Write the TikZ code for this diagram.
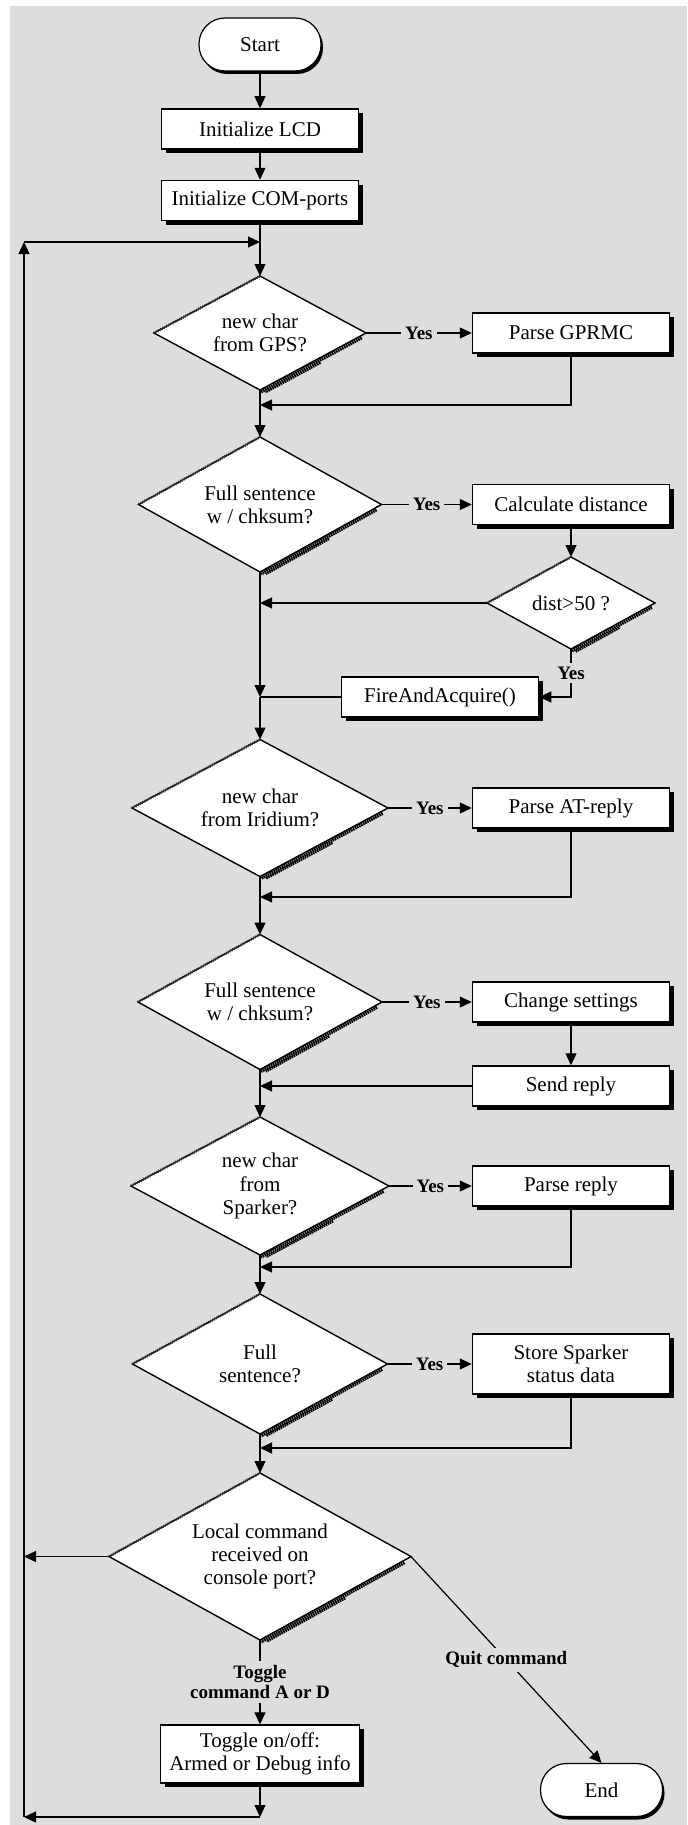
\documentclass[tikz,border=0pt]{standalone}
\usepackage{fontspec}
\setmainfont{Liberation Serif}
\usetikzlibrary{shapes.geometric, arrows.meta, calc, shadows, decorations.pathmorphing}
\definecolor{bg}{RGB}{221,221,221}
\newcommand\mainf{\fontsize{10.5}{11.6}\selectfont}
\newcommand\labf{\bfseries\fontsize{9.5}{10.2}\selectfont}
\newcommand\dshade[1]{%
  \draw[hatch, line width=1.6pt] ($(#1.east)!0.05!(#1.south)!1.1pt!90:(#1.south)$) -- ($(#1.south)!1.1pt!-90:(#1.east)$);
  \draw[hatch, line width=1.2pt] ($(#1.east)!0.45!(#1.south)!2.3pt!90:(#1.south)$) -- ($(#1.south)!0.03!(#1.east)!2.3pt!-90:(#1.east)$);
  \draw[zig] (#1.west) -- (#1.north);}
\tikzset{
  bx/.style={draw, fill=white, line width=0.75pt, minimum width=98.5pt, minimum height=20pt,
    inner sep=1pt, align=center, font=\mainf,
    drop shadow={shadow xshift=2pt, shadow yshift=-2pt, fill=black, opacity=1}},
  dec/.style={diamond, draw, fill=white, line width=0.7pt, inner sep=0pt, outer sep=0pt,
    shape aspect=1.8, align=center, font=\mainf},
  term/.style={rectangle, rounded corners=13pt, draw, fill=white, line width=0.6pt,
    minimum width=61pt, minimum height=26.5pt, font=\mainf,
    drop shadow={shadow xshift=1pt, shadow yshift=-1.5pt, fill=black, opacity=1}},
  arr/.style={line width=0.6pt, -{Triangle[length=6pt,width=5.5pt]}},
  ln/.style={line width=0.6pt},
  yes/.style={font=\labf, fill=bg, inner sep=2pt, align=center},
  hatch/.style={dash pattern=on 0.8pt off 0.35pt, black},
  zig/.style={decorate, decoration={zigzag, amplitude=0.5pt, segment length=1.2pt},
    line width=0.35pt, black!80}
}
\begin{document}
\begin{tikzpicture}[x=0.5pt, y=-0.5pt]
\useasboundingbox (0,0) rectangle (687,1825);
\fill[white] (0,0) rectangle (687,1825);
\fill[bg] (10,6) rectangle (687,1825);

% nodes
\node[term] (start) at (260,44.5) {Start};
\node[bx] (lcd) at (260,129) {Initialize LCD};
\node[bx] (com) at (260,200.5) {Initialize COM-ports};
\node[dec, minimum width=106pt, minimum height=57pt] (d1) at (260,333) {new char\\from GPS?};
\node[bx] (gps) at (571,333) {Parse GPRMC};
\node[dec, minimum width=121.5pt, minimum height=67.5pt] (d2) at (260,504.5) {Full sentence\\w / chksum?};
\node[bx] (calc) at (571,504.5) {Calculate distance};
\node[dec, minimum width=84pt, minimum height=46pt] (d3) at (571,603) {dist>50 ?};
\node[bx] (fire) at (440,697) {FireAndAcquire()};
\node[dec, minimum width=128pt, minimum height=68.5pt] (d4) at (260,808) {new char\\from Iridium?};
\node[bx] (atr) at (571,808) {Parse AT-reply};
\node[dec, minimum width=122pt, minimum height=67.5pt] (d5) at (260,1002) {Full sentence\\w / chksum?};
\node[bx] (chg) at (571,1002) {Change settings};
\node[bx] (send) at (571,1086) {Send reply};
\node[dec, minimum width=129pt, minimum height=69pt] (d6) at (260,1186) {new char\\from\\Sparker?};
\node[bx] (prep) at (571,1186) {Parse reply};
\node[dec, minimum width=127.5pt, minimum height=70pt] (d7) at (260,1364) {Full\\sentence?};
\node[bx, minimum height=30pt] (store) at (571,1364) {Store Sparker\\status data};
\node[dec, minimum width=151pt, minimum height=83.5pt] (d8) at (260,1556.5) {Local command\\received on\\console port?};
\node[bx, minimum height=29pt, minimum width=99.5pt] (tog) at (260,1754) {Toggle on/off:\\Armed or Debug info};
\node[term] (end) at (601.5,1790) {End};

\foreach \d in {d1,d2,d3,d4,d5,d6,d7,d8} {\dshade{\d}}

% junction points
\coordinate (m0) at (260,242);
\coordinate (l0) at (24,242);
\coordinate (m1) at (260,405);
\coordinate (m2) at (260,603);
\coordinate (m3) at (260,697);
\coordinate (m4) at (260,897);
\coordinate (m5) at (260,1086);
\coordinate (m6) at (260,1267);
\coordinate (m7) at (260,1448);
\coordinate (l1) at (24,1556.5);
\coordinate (m8) at (260,1817);
\coordinate (l2) at (24,1817);

% main axis
\draw[arr] (start.south) -- (lcd.north);
\draw[arr] (lcd.south) -- (com.north);
\draw[arr] (com.south) -- (d1.north);
\draw[arr] (d1.south) -- (d2.north);
\draw[ln] (d2.south) -- (m2);
\draw[arr] (m2) -- (m3);
\draw[arr] (m3) -- (d4.north);
\draw[arr] (d4.south) -- (d5.north);
\draw[arr] (d5.south) -- (d6.north);
\draw[arr] (d6.south) -- (d7.north);
\draw[arr] (d7.south) -- (d8.north);

% yes branches
\draw[arr] (d1.east) -- node[yes]{Yes} (gps.west);
\draw[arr] (gps.south) |- (m1);
\draw[arr] (d2.east) -- node[yes]{Yes} (calc.west);
\draw[arr] (calc.south) -- (d3.north);
\draw[arr] (d3.west) -- (m2);
\draw[arr] (d3.south) |- node[yes, pos=0.25]{Yes} (fire.east);
\draw[ln] (fire.west) -- (m3);
\draw[arr] (d4.east) -- node[yes]{Yes} (atr.west);
\draw[arr] (atr.south) |- (m4);
\draw[arr] (d5.east) -- node[yes]{Yes} (chg.west);
\draw[arr] (chg.south) -- (send.north);
\draw[arr] (send.west) -- (m5);
\draw[arr] (d6.east) -- node[yes]{Yes} (prep.west);
\draw[arr] (prep.south) |- (m6);
\draw[arr] (d7.east) -- node[yes]{Yes} (store.west);
\draw[arr] (store.south) |- (m7);

% console command
\draw[arr] (d8.west) -- (l1);
\draw[arr] (d8.south) -- node[yes]{Toggle\\command A or D} (tog.north);
\draw[arr] (d8.east) -- node[yes]{Quit command} (end.north);
\draw[arr] (tog.south) -- (m8);
\draw[arr] (m8) -- (l2);
\draw[arr] (l2) -- (l0);
\draw[arr] (l0) -- (m0);
\end{tikzpicture}
\end{document}
